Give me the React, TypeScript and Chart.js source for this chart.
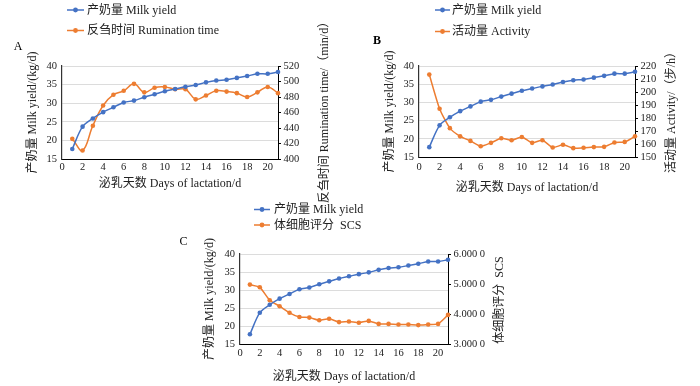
import React, { useEffect, useRef } from "react";
import { Chart, registerables } from "chart.js";

Chart.register(...registerables);

// ---------------- DATA ----------------
const days = [1, 2, 3, 4, 5, 6, 7, 8, 9, 10, 11, 12, 13, 14, 15, 16, 17, 18, 19, 20, 21];
const milkYield = [17.7, 23.7, 25.9, 27.6, 28.9, 30.2, 30.7, 31.6, 32.4, 33.2, 33.8, 34.4, 34.9, 35.6, 36.1, 36.3, 36.8, 37.3, 37.9, 37.9, 38.4];
const ruminationTime = [426, 411, 443, 469, 483, 488, 497, 486, 492, 493, 490, 490, 477, 482, 488, 487, 485, 480, 486, 493, 485];
const activity = [213.4, 187.1, 172.2, 165.9, 162.4, 158.3, 160.9, 164.4, 162.9, 165.4, 160.9, 162.9, 157.3, 159.4, 156.8, 157.1, 157.6, 157.8, 161.1, 161.6, 165.9];
const scs = [4.98, 4.89, 4.46, 4.26, 4.04, 3.9, 3.88, 3.79, 3.84, 3.73, 3.75, 3.71, 3.77, 3.67, 3.67, 3.65, 3.65, 3.63, 3.65, 3.67, 3.97];

const milkLabel = "产奶量 Milk yield";
const milkAxisTitle = "产奶量 Milk yield/(kg/d)";
const xAxisTitle = "泌乳天数 Days of lactation/d";
const xTicks = { min: 0, max: 21, step: 2 };
const milkTicks = { min: 15, max: 40, step: 5 };

// ---------------- STYLE ----------------
const BLUE = "#4472C4";
const ORANGE = "#ED7D31";
const TEXT = "#222";
const FONT = '"Liberation Serif", "Noto Sans CJK SC", serif';
const TICK_FONT = { family: FONT, size: 10.5 };
const TITLE_FONT = { family: FONT, size: 12 };
const LH = 12 * 1.2;

type Panel = {
  left: number; top: number; w: number; h: number;
  plot: { l: number; r: number; t: number; b: number };
  leftTitleX: number; rightTitleX: number; rightTitleDy: number; xTitleY: number; xTickPad: number;
  letter: string; letterX: number; letterY: number; letterBold: boolean;
  legendLine: [number, number]; legendTextX: number; legendRows: [number, number];
  series2: number[]; series2Label: string; rightTitle: string;
  rMin: number; rMax: number; rStep: number; rFmt: (v: number) => string;
  tension1: number; tension2: number;
};

const panels: Panel[] = [
  {
    left: 0, top: 0, w: 350, h: 212,
    plot: { l: 62, r: 278, t: 66, b: 159 },
    leftTitleX: 33, rightTitleX: 325, rightTitleDy: -3, xTitleY: 184, xTickPad: 2,
    letter: "A", letterX: 18, letterY: 47, letterBold: false,
    legendLine: [67, 84], legendTextX: 87, legendRows: [10, 30.5],
    series2: ruminationTime, series2Label: "反刍时间 Rumination time",
    rightTitle: "反刍时间 Rumination time/（min/d）",
    rMin: 400, rMax: 520, rStep: 20, rFmt: (v) => String(v),
    tension1: 0.35, tension2: 0.4,
  },
  {
    left: 350, top: 0, w: 350, h: 212,
    plot: { l: 69, r: 285, t: 66, b: 157 },
    leftTitleX: 40, rightTitleX: 322, rightTitleDy: -2, xTitleY: 188, xTickPad: 4,
    letter: "B", letterX: 27, letterY: 41, letterBold: true,
    legendLine: [85, 100], legendTextX: 102, legendRows: [10, 31.5],
    series2: activity, series2Label: "活动量 Activity",
    rightTitle: "活动量 Activity/（步/h）",
    rMin: 150, rMax: 220, rStep: 10, rFmt: (v) => String(v),
    tension1: 0.3, tension2: 0.2,
  },
  {
    left: 180, top: 190, w: 340, h: 196,
    plot: { l: 60, r: 268, t: 64, b: 154 },
    leftTitleX: 30, rightTitleX: 320, rightTitleDy: 1, xTitleY: 187, xTickPad: 3,
    letter: "C", letterX: 3.5, letterY: 52, letterBold: false,
    legendLine: [74, 90], legendTextX: 94, legendRows: [19.5, 35],
    series2: scs, series2Label: "体细胞评分  SCS",
    rightTitle: "体细胞评分  SCS",
    rMin: 3, rMax: 6, rStep: 1,
    rFmt: (v) => { const s = Number(v).toFixed(4); return s.slice(0, -1) + " " + s.slice(-1); },
    tension1: 0.3, tension2: 0.2,
  },
];

function PanelChart({ p }: { p: Panel }) {
  const ref = useRef<HTMLCanvasElement | null>(null);
  useEffect(() => {
    if (!ref.current) return;
    const overlay = {
      id: "overlay",
      afterDraw(chart: any) {
        const ctx = chart.ctx as CanvasRenderingContext2D;
        ctx.save();
        // panel letter
        ctx.fillStyle = "#000";
        ctx.font = `${p.letterBold ? "bold " : ""}12px ${FONT}`;
        ctx.textAlign = "center";
        ctx.textBaseline = "middle";
        ctx.fillText(p.letter, p.letterX, p.letterY);
        // right axis title (reads bottom-to-top)
        const ca = chart.chartArea;
        ctx.save();
        ctx.translate(p.rightTitleX, (ca.top + ca.bottom) / 2 + p.rightTitleDy);
        ctx.rotate(-Math.PI / 2);
        ctx.fillStyle = TEXT;
        ctx.font = `12px ${FONT}`;
        ctx.textAlign = "center";
        ctx.textBaseline = "middle";
        ctx.fillText(p.rightTitle, 0, 0);
        ctx.restore();
        // legend
        const items = [
          { color: BLUE, text: milkLabel },
          { color: ORANGE, text: p.series2Label },
        ];
        items.forEach((it, i) => {
          const y = p.legendRows[i];
          ctx.strokeStyle = it.color;
          ctx.lineWidth = 1.5;
          ctx.beginPath();
          ctx.moveTo(p.legendLine[0], y);
          ctx.lineTo(p.legendLine[1], y);
          ctx.stroke();
          ctx.fillStyle = it.color;
          ctx.beginPath();
          ctx.arc((p.legendLine[0] + p.legendLine[1]) / 2, y, 2.4, 0, Math.PI * 2);
          ctx.fill();
          ctx.fillStyle = TEXT;
          ctx.font = `12px ${FONT}`;
          ctx.textAlign = "left";
          ctx.textBaseline = "middle";
          ctx.fillText(it.text, p.legendTextX, y + 0.5);
        });
        ctx.restore();
      },
    };
    const chart = new Chart(ref.current, {
      type: "line",
      data: {
        datasets: [
          {
            label: milkLabel,
            data: days.map((d, i) => ({ x: d, y: milkYield[i] })),
            borderColor: BLUE, backgroundColor: BLUE,
            borderWidth: 1.5, pointRadius: 2.3, pointBorderWidth: 0,
            tension: p.tension1, yAxisID: "y", clip: false,
          },
          {
            label: p.series2Label,
            data: days.map((d, i) => ({ x: d, y: p.series2[i] })),
            borderColor: ORANGE, backgroundColor: ORANGE,
            borderWidth: 1.5, pointRadius: 2.3, pointBorderWidth: 0,
            tension: p.tension2, yAxisID: "y1", clip: false,
          },
        ],
      },
      options: {
        responsive: false,
        animation: false,
        devicePixelRatio: 1,
        layout: { padding: { top: p.plot.t, left: 0, right: 0, bottom: 0 } },
        plugins: { legend: { display: false }, tooltip: { enabled: false } },
        scales: {
          x: {
            type: "linear", position: "bottom", min: xTicks.min, max: xTicks.max,
            ticks: { stepSize: xTicks.step, includeBounds: false, font: TICK_FONT, color: TEXT, padding: p.xTickPad, maxRotation: 0, autoSkip: false },
            grid: { display: false, drawTicks: false },
            border: { display: true, color: "#000", width: 1 },
            title: { display: true, text: xAxisTitle, font: TITLE_FONT, color: TEXT, padding: { top: 0, bottom: p.h - p.xTitleY - LH / 2 } },
            afterFit: (s: any) => { s.height = p.h - p.plot.b; },
          },
          y: {
            type: "linear", position: "left", min: milkTicks.min, max: milkTicks.max,
            ticks: { stepSize: milkTicks.step, font: TICK_FONT, color: TEXT, padding: 5, autoSkip: false },
            grid: { color: "#dcdcdc", drawTicks: false },
            border: { display: true, color: "#333", width: 1.2 },
            title: { display: true, text: milkAxisTitle, font: TITLE_FONT, color: TEXT, padding: { top: p.leftTitleX - LH / 2, bottom: 0 } },
            afterFit: (s: any) => { s.width = p.plot.l; },
          },
          y1: {
            type: "linear", position: "right", min: p.rMin, max: p.rMax,
            ticks: { stepSize: p.rStep, font: TICK_FONT, color: TEXT, padding: 2.5, autoSkip: false, callback: (v: any) => p.rFmt(Number(v)) },
            grid: { drawOnChartArea: false, drawTicks: true, tickLength: 3, color: "#000" },
            border: { display: true, color: "#000", width: 1 },
            title: { display: false },
            afterFit: (s: any) => { s.width = p.w - p.plot.r; },
          },
        },
      } as any,
      plugins: [overlay],
    });
    return () => chart.destroy();
  }, [p]);
  return (
    <canvas
      ref={ref}
      width={p.w}
      height={p.h}
      style={{ position: "absolute", left: p.left, top: p.top, width: p.w, height: p.h }}
    />
  );
}

export default function App() {
  return (
    <div style={{ position: "fixed", left: 0, top: 0, width: 700, height: 386, background: "#fff", overflow: "hidden" }}>
      {panels.map((p) => (
        <PanelChart key={p.letter} p={p} />
      ))}
    </div>
  );
}
